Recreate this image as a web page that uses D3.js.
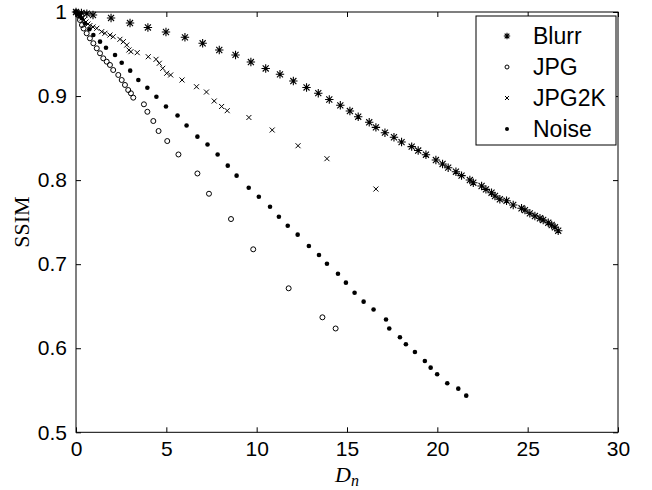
<!DOCTYPE html>
<html>
<head>
<meta charset="utf-8">
<script src="https://cdn.jsdelivr.net/npm/d3@7/dist/d3.min.js"></script>
<style>
  body { margin: 0; background: #fff; }
  text { font-family: "Liberation Sans", Arial, sans-serif; fill: #000; }
</style>
</head>
<body>
<script>
const width = 652;
const height = 490;

// SSIM vs D_n
const blurr = [
  [0, 1], [0.3, 0.999], [0.6, 0.998], [0.94, 0.9964], [1.94, 0.9929], [2.99, 0.9869], [3.98, 0.9816],
  [4.98, 0.9762], [6.03, 0.9699], [7.01, 0.9628], [7.93, 0.9548], [8.83, 0.9489],
  [9.68, 0.9405], [10.50, 0.9328], [11.29, 0.9259], [12.03, 0.9179], [12.76, 0.9102],
  [13.41, 0.9034], [14.02, 0.8959], [14.63, 0.8890], [15.16, 0.8822], [15.62, 0.8754],
  [16.23, 0.8688], [16.60, 0.8628], [17.10, 0.8564], [17.60, 0.8510], [18.02, 0.8453],
  [18.58, 0.8398], [18.94, 0.8352], [19.37, 0.8302], [19.92, 0.8239], [20.29, 0.8192],
  [20.60, 0.8148], [21.03, 0.8100], [21.34, 0.8053], [21.80, 0.8001], [21.99, 0.7969],
  [22.45, 0.7930], [22.69, 0.7890], [23.00, 0.7850], [23.19, 0.7811], [23.46, 0.7772],
  [23.83, 0.7755], [24.20, 0.7704], [24.66, 0.7665], [24.85, 0.7644], [25.12, 0.7605],
  [25.40, 0.7573], [25.68, 0.7546], [25.86, 0.7526], [26.14, 0.7493], [26.33, 0.7466],
  [26.51, 0.7439], [26.69, 0.7398]
];
const jpg = [
  [0, 1], [0.11, 0.9964], [0.22, 0.9905], [0.33, 0.9845], [0.42, 0.9804], [0.59, 0.9747],
  [0.77, 0.9687], [0.96, 0.9628], [1.15, 0.9568], [1.33, 0.9509], [1.51, 0.9449],
  [1.70, 0.9409], [1.88, 0.9370], [2.06, 0.9310], [2.34, 0.9251], [2.53, 0.9191],
  [2.71, 0.9132], [2.89, 0.9072], [3.04, 0.9033], [3.17, 0.8981], [3.76, 0.8902],
  [3.95, 0.8813], [4.28, 0.8703], [4.57, 0.8584], [5.05, 0.8465], [5.67, 0.8305],
  [6.72, 0.8079], [7.36, 0.7838], [8.58, 0.7537], [9.81, 0.7177], [11.77, 0.6713],
  [13.64, 0.6368], [14.37, 0.6235]
];
const jpg2k = [
  [0, 1], [0.11, 0.9976], [0.22, 0.9952], [0.33, 0.9929], [0.44, 0.9905], [0.55, 0.9881],
  [0.66, 0.9857], [0.77, 0.9839], [0.94, 0.9822], [1.15, 0.9806], [1.42, 0.9766],
  [1.60, 0.9747], [1.88, 0.9726], [2.06, 0.9706], [2.43, 0.9675], [2.62, 0.9647],
  [2.81, 0.9607], [2.93, 0.9548], [3.04, 0.9528], [3.39, 0.9516], [4.00, 0.9468],
  [4.43, 0.9437], [4.61, 0.9390], [4.80, 0.9330], [5.02, 0.9271], [5.24, 0.9251],
  [5.87, 0.9191], [6.67, 0.9111], [7.22, 0.9048], [7.65, 0.8941], [8.06, 0.8876],
  [8.37, 0.8826], [9.57, 0.8745], [10.86, 0.8596], [12.29, 0.8409], [13.89, 0.8255],
  [16.60, 0.7894]
];
const noise = [
  [0, 1], [0.11, 0.9976], [0.19, 0.9952], [0.32, 0.9925], [0.50, 0.9865], [0.74, 0.9794],
  [0.96, 0.9726], [1.33, 0.9647], [1.66, 0.9575], [2.16, 0.9488], [2.53, 0.9397],
  [3.00, 0.9302], [3.45, 0.9191], [3.95, 0.9099], [4.45, 0.8992], [4.98, 0.8876],
  [5.62, 0.8769], [6.12, 0.8650], [6.72, 0.8517], [7.28, 0.8424], [7.84, 0.8305],
  [8.40, 0.8172], [8.89, 0.8053], [9.56, 0.7909], [10.12, 0.7802], [10.74, 0.7683],
  [11.23, 0.7564], [11.72, 0.7458], [12.27, 0.7351], [12.89, 0.7216], [13.45, 0.7109],
  [13.89, 0.7006], [14.50, 0.6887], [14.94, 0.6780], [15.42, 0.6661], [15.92, 0.6554],
  [16.47, 0.6461], [17.16, 0.6342], [17.34, 0.6235], [17.93, 0.6130], [18.26, 0.6047],
  [18.76, 0.5955], [19.31, 0.5848], [19.63, 0.5769], [19.99, 0.5690], [20.55, 0.5583],
  [21.16, 0.5519], [21.60, 0.5436]
];

const seriesNames = ['Blurr', 'JPG', 'JPG2K', 'Noise'];
const seriesData = [blurr, jpg, jpg2k, noise];
const markerTypes = ['star', 'circle', 'cross', 'dot'];
const xTicks = [0, 5, 10, 15, 20, 25, 30];
const yTicks = [0.5, 0.6, 0.7, 0.8, 0.9, 1];

const x = d3.scaleLinear().domain([0, 30]).range([76, 618]);
const y = d3.scaleLinear().domain([0.5, 1]).range([432.3, 12]);

const svg = d3.select('body').append('svg')
  .attr('width', width)
  .attr('height', height);

// draws a marker of the given type at 0,0 inside g
function marker(g, type, s) {
  if (type === 'star') {
    const a = s * 0.72;
    g.append('path')
      .attr('d', `M${-s},0H${s}M0,${-s}V${s}M${-a},${-a}L${a},${a}M${-a},${a}L${a},${-a}`)
      .attr('stroke', '#000').attr('stroke-width', 1.1);
  } else if (type === 'circle') {
    g.append('circle').attr('r', s)
      .attr('fill', 'none').attr('stroke', '#000').attr('stroke-width', 1);
  } else if (type === 'cross') {
    g.append('path')
      .attr('d', `M${-s},${-s}L${s},${s}M${-s},${s}L${s},${-s}`)
      .attr('stroke', '#000').attr('stroke-width', 1);
  } else {
    g.append('circle').attr('r', s).attr('fill', '#000');
  }
}

const markerSize = { star: 4.2, circle: 2.5, cross: 2.5, dot: 2.3 };

// axes with inward ticks, MATLAB style
const fontSize = 21;
const gx = svg.append('g').attr('transform', `translate(0,${y(0.5)})`)
  .call(d3.axisBottom(x).tickValues(xTicks).tickSize(-5).tickPadding(9).tickFormat(d3.format('d')));
const gxTop = svg.append('g').attr('transform', `translate(0,${y(1)})`)
  .call(d3.axisTop(x).tickValues(xTicks).tickSize(-5).tickFormat(''));
const gy = svg.append('g').attr('transform', `translate(${x(0)},0)`)
  .call(d3.axisLeft(y).tickValues(yTicks).tickSize(-5).tickPadding(9).tickFormat(d => d === 1 ? '1' : d3.format('.1f')(d)));
const gyRight = svg.append('g').attr('transform', `translate(${x(30)},0)`)
  .call(d3.axisRight(y).tickValues(yTicks).tickSize(-5).tickFormat(''));

[gx, gxTop, gy, gyRight].forEach(g => {
  g.select('.domain').remove();
  g.selectAll('line').attr('stroke', '#000');
  g.selectAll('text').attr('font-size', fontSize).attr('font-family', '"Liberation Sans", Arial, sans-serif');
});
gx.selectAll('text').attr('dy', '0.71em');

svg.append('rect')
  .attr('x', x(0)).attr('y', y(1))
  .attr('width', x(30) - x(0)).attr('height', y(0.5) - y(1))
  .attr('fill', 'none').attr('stroke', '#000').attr('stroke-width', 1);

// points
seriesData.forEach((data, i) => {
  const type = markerTypes[i];
  svg.append('g').selectAll('g')
    .data(data)
    .enter()
    .append('g')
    .attr('transform', d => `translate(${x(d[0])},${y(d[1])})`)
    .each(function () { marker(d3.select(this), type, markerSize[type]); });
});

// axis labels
svg.append('text')
  .attr('x', (x(0) + x(30)) / 2)
  .attr('y', 482)
  .attr('text-anchor', 'middle')
  .style('font-family', '"Liberation Serif", "DejaVu Serif", serif')
  .style('font-style', 'italic')
  .attr('font-size', 22)
  .text('D')
  .append('tspan')
  .attr('font-size', 16)
  .attr('dy', 4)
  .text('n');

svg.append('text')
  .attr('transform', `translate(29,${(y(0.5) + y(1)) / 2}) rotate(-90)`)
  .attr('text-anchor', 'middle')
  .style('font-family', '"Liberation Serif", "DejaVu Serif", serif')
  .attr('font-size', 22)
  .text('SSIM');

// legend
const legend = svg.append('g');
legend.append('rect')
  .attr('x', 476).attr('y', 16)
  .attr('width', 140).attr('height', 129)
  .attr('fill', '#fff').attr('stroke', '#000').attr('stroke-width', 1);

const legendSize = { star: 3.2, circle: 2, cross: 2, dot: 2 };
seriesNames.forEach((name, i) => {
  const row = legend.append('g').attr('transform', `translate(0,${36 + i * 31})`);
  marker(row.append('g').attr('transform', 'translate(507,0)'), markerTypes[i], legendSize[markerTypes[i]]);
  row.append('text')
    .attr('x', 533)
    .attr('dy', '0.36em')
    .attr('font-size', 23)
    .text(name);
});
</script>
</body>
</html>
